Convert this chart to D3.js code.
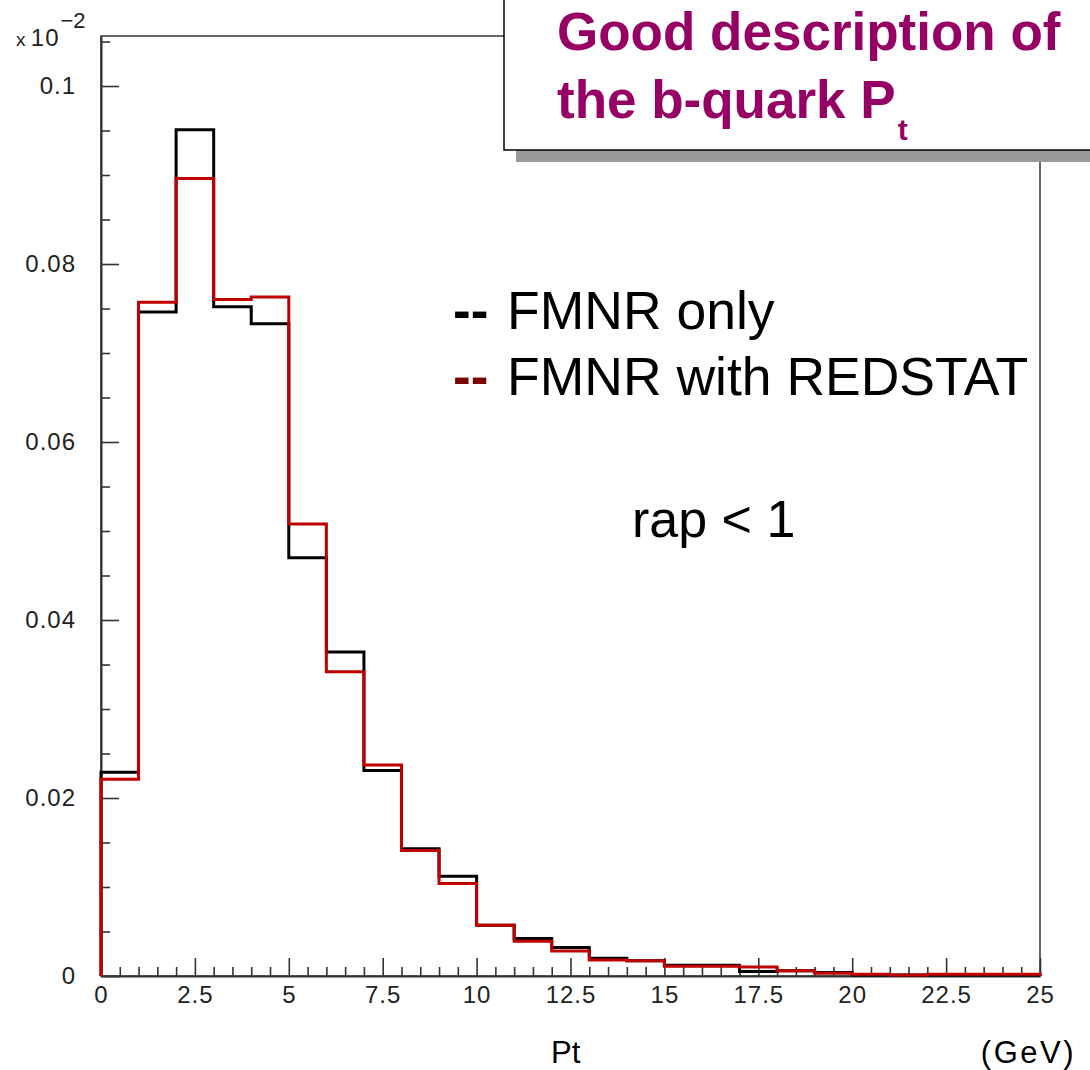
<!DOCTYPE html>
<html>
<head>
<meta charset="utf-8">
<script src="https://cdn.jsdelivr.net/npm/d3@7/dist/d3.min.js"></script>
<style>
  html, body { margin: 0; padding: 0; background: #fff; }
  svg { display: block; }
  .tick text { font-family: "Liberation Sans", Arial, sans-serif; font-size: 24px; letter-spacing: 1px; fill: #222; }
</style>
</head>
<body>
<svg id="chart" width="1090" height="1070"></svg>
<script>
// b-quark Pt spectrum, normalised, in 1 GeV bins (lower bin edges, GeV)
const ptBinEdges = [0, 1, 2, 3, 4, 5, 6, 7, 8, 9, 10, 11, 12, 13, 14, 15, 16, 17, 18, 19, 20, 21, 22, 23, 24, 25];

// FMNR only (black)
const fmnrOnly = [0.0229, 0.0746, 0.0951, 0.0752, 0.0733, 0.0470, 0.0364, 0.0231, 0.0143, 0.0112,
                  0.0057, 0.0042, 0.0032, 0.0020, 0.0017, 0.0012, 0.0012, 0.0005, 0.0006, 0.0004,
                  0.0001, 0.0001, 0.0001, 0.0001, 0.0001];

// FMNR with REDSTAT (red)
const fmnrRedstat = [0.0221, 0.0757, 0.0896, 0.0760, 0.0763, 0.0508, 0.0342, 0.0237, 0.0141, 0.0104,
                     0.0057, 0.0039, 0.0028, 0.0018, 0.0017, 0.0011, 0.0011, 0.0010, 0.0006, 0.0003,
                     0.0002, 0.0001, 0.0002, 0.0002, 0.0002];

// axis ticks
const xTickValues = [0, 2.5, 5, 7.5, 10, 12.5, 15, 17.5, 20, 22.5, 25];
const xTickLabels = ["0", "2.5", "5", "7.5", "10", "12.5", "15", "17.5", "20", "22.5", "25"];
const xMinorTicks = [0.5, 1, 1.5, 2, 3, 3.5, 4, 4.5, 5.5, 6, 6.5, 7, 8, 8.5, 9, 9.5, 10.5, 11, 11.5, 12,
                     13, 13.5, 14, 14.5, 15.5, 16, 16.5, 17, 18, 18.5, 19, 19.5, 20.5, 21, 21.5, 22,
                     23, 23.5, 24, 24.5];
const yTickValues = [0, 0.02, 0.04, 0.06, 0.08, 0.1];
const yTickLabels = ["0", "0.02", "0.04", "0.06", "0.08", "0.1"];
const yMinorTicks = [0.005, 0.01, 0.015, 0.025, 0.03, 0.035, 0.045, 0.05, 0.055, 0.065, 0.07, 0.075,
                     0.085, 0.09, 0.095, 0.105];

const legendItems = [
  { label: "FMNR only", color: "#000000" },
  { label: "FMNR with REDSTAT", color: "#7a0000" }
];

const svg = d3.select("#chart");
const frame = { left: 101, right: 1040, top: 36, bottom: 976 };

const x = d3.scaleLinear().domain([0, 25]).range([frame.left, frame.right]);
const y = d3.scaleLinear().domain([0, 0.10562]).range([frame.bottom, frame.top]);

svg.append("rect").attr("width", 1090).attr("height", 1070).attr("fill", "#fff");

// plot frame
svg.append("rect")
  .attr("x", frame.left).attr("y", frame.top)
  .attr("width", frame.right - frame.left).attr("height", frame.bottom - frame.top)
  .attr("fill", "none").attr("stroke", "#333").attr("stroke-width", 1.5);

// y axis (ticks pointing into the frame)
const yAxis = d3.axisLeft(y)
  .tickValues(yTickValues)
  .tickFormat((d, i) => yTickLabels[i])
  .tickSizeInner(-18).tickSizeOuter(0).tickPadding(25);
const gy = svg.append("g").attr("transform", `translate(${frame.left},0)`).call(yAxis);
gy.select(".domain").attr("stroke", "#333").attr("stroke-width", 2);
gy.selectAll(".tick line").attr("stroke", "#333").attr("stroke-width", 1.6);

const yMinor = d3.axisLeft(y).tickValues(yMinorTicks).tickFormat("").tickSizeInner(-9).tickSizeOuter(0);
const gym = svg.append("g").attr("transform", `translate(${frame.left},0)`).call(yMinor);
gym.select(".domain").remove();
gym.selectAll(".tick line").attr("stroke", "#333").attr("stroke-width", 1.6);

// x axis
const xAxis = d3.axisBottom(x)
  .tickValues(xTickValues)
  .tickFormat((d, i) => xTickLabels[i])
  .tickSizeInner(-18).tickSizeOuter(0).tickPadding(10);
const gx = svg.append("g").attr("transform", `translate(0,${frame.bottom})`).call(xAxis);
gx.select(".domain").attr("stroke", "#333").attr("stroke-width", 2);
gx.selectAll(".tick line").attr("stroke", "#333").attr("stroke-width", 1.6);

const xMinor = d3.axisBottom(x).tickValues(xMinorTicks).tickFormat("").tickSizeInner(-9).tickSizeOuter(0);
const gxm = svg.append("g").attr("transform", `translate(0,${frame.bottom})`).call(xMinor);
gxm.select(".domain").remove();
gxm.selectAll(".tick line").attr("stroke", "#333").attr("stroke-width", 1.6);

// exponent label on the y axis
const expo = svg.append("text")
  .attr("x", 16).attr("y", 46)
  .attr("font-family", "Liberation Sans, Arial, sans-serif")
  .attr("fill", "#222");
expo.append("tspan").attr("font-size", 19).text("x ");
expo.append("tspan").attr("font-size", 24).attr("letter-spacing", 1).text("10");
expo.append("tspan").attr("font-size", 22).attr("dy", -18).attr("dx", 1).text("\u22122");

// step outline of each histogram
function stepPoints(values) {
  const pts = [[ptBinEdges[0], 0]];
  values.forEach((v, i) => pts.push([ptBinEdges[i], v]));
  pts.push([ptBinEdges[values.length], values[values.length - 1]]);
  pts.push([ptBinEdges[values.length], 0]);
  return pts;
}
const step = d3.line().x(d => x(d[0])).y(d => y(d[1])).curve(d3.curveStepAfter);

svg.append("path").datum(stepPoints(fmnrOnly))
  .attr("d", step).attr("fill", "none").attr("stroke", "#000").attr("stroke-width", 3);
svg.append("path").datum(stepPoints(fmnrRedstat))
  .attr("d", step).attr("fill", "none").attr("stroke", "#c00000").attr("stroke-width", 3);

// legend
const legend = svg.append("g").attr("font-family", "Liberation Sans, Arial, sans-serif");
legendItems.forEach((item, i) => {
  const by = 329 + i * 66;
  legend.append("text").attr("x", 453).attr("y", by)
    .attr("font-size", 53).attr("font-weight", "bold").attr("fill", item.color).text("--");
  legend.append("text").attr("x", 507).attr("y", by)
    .attr("font-size", 53.5).attr("fill", "#000").text(item.label);
});
legend.append("text").attr("x", 632).attr("y", 537)
  .attr("font-size", 52).attr("fill", "#000").text("rap < 1");

// axis titles
svg.append("text").attr("x", 551).attr("y", 1063)
  .attr("font-family", "Liberation Sans, Arial, sans-serif").attr("font-size", 31).attr("fill", "#000").text("Pt");
svg.append("text").attr("x", 1076).attr("y", 1063).attr("text-anchor", "end")
  .attr("font-family", "Liberation Sans, Arial, sans-serif").attr("font-size", 31)
  .attr("letter-spacing", 2.5).attr("fill", "#000").text("(GeV)");

// title box with drop shadow
const tb = svg.append("g");
tb.append("rect").attr("x", 516).attr("y", 0).attr("width", 600).attr("height", 162).attr("fill", "#999");
tb.append("rect").attr("x", 504).attr("y", -2).attr("width", 600).attr("height", 152)
  .attr("fill", "#fff").attr("stroke", "#000").attr("stroke-width", 1.5);
const title = tb.append("text")
  .attr("font-family", "Liberation Sans, Arial, sans-serif").attr("font-weight", "bold")
  .attr("fill", "#960064");
title.append("tspan").attr("x", 557).attr("y", 50).attr("font-size", 53).text("Good description of");
title.append("tspan").attr("x", 557).attr("y", 118).attr("font-size", 53).text("the b-quark P");
title.append("tspan").attr("dy", 22).attr("dx", 2).attr("font-size", 30).text("t");
</script>
</body>
</html>
